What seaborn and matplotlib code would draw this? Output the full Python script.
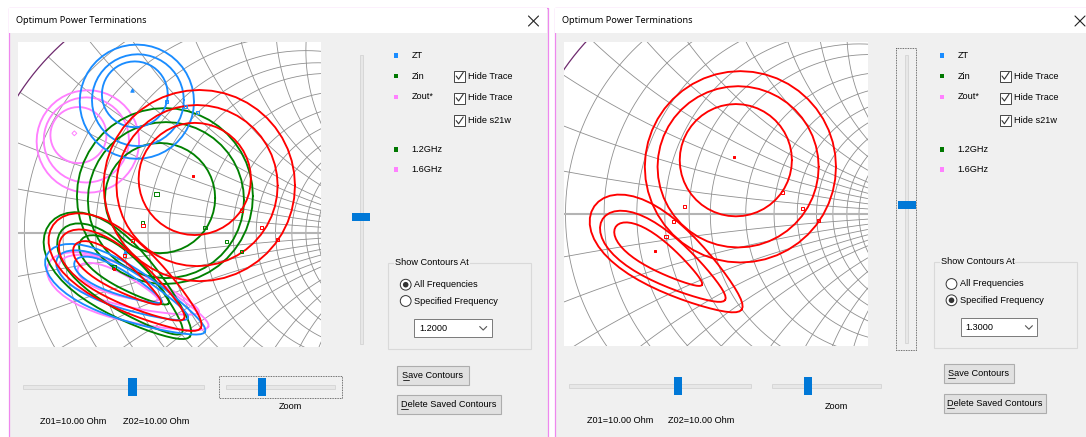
import numpy as np
import pandas as pd
import matplotlib
matplotlib.use("Agg")
import matplotlib.pyplot as plt
from matplotlib.patches import Rectangle, Circle
import seaborn as sns

# ---------------------------------------------------------------- data
# Smith chart grid (normalised resistance and reactance values)
R_GRID = [0.1, 0.2, 0.3, 0.4, 0.5, 0.6, 0.8, 1.0, 1.2, 1.4, 1.6, 1.8, 2.0, 3.0, 4.0, 5.0]
X_GRID = [0.1, 0.2, 0.3, 0.4, 0.5, 0.6, 0.8, 1.0, 1.2, 1.4, 1.6, 1.8, 2.0, 3.0, 4.0, 5.0]

# contours in the reflection-coefficient plane:
# (centre re, centre im, semi-axis a, semi-axis b, tilt deg, egg asymmetry)
RED_CONTOURS = [(-0.132, 0.185, 0.375, 0.375, 0, 0), (-0.141, 0.185, 0.316, 0.316, 0, 0),
                (-0.150, 0.211, 0.220, 0.220, 0, 0), (-0.416, -0.172, 0.353, 0.132, -35, 0.4),
                (-0.432, -0.178, 0.288, 0.095, -33.5, 0.4), (-0.452, -0.164, 0.204, 0.058, -34, 0.4)]
GREEN_CONTOURS = [(-0.267, 0.144, 0.345, 0.345, 0, 0), (-0.263, 0.128, 0.306, 0.306, 0, 0),
                  (-0.286, 0.136, 0.216, 0.216, 0, 0), (-0.443, -0.185, 0.353, 0.140, -39, 0.4),
                  (-0.436, -0.192, 0.310, 0.105, -40.6, 0.4), (-0.424, -0.153, 0.212, 0.065, -36, 0.4)]
BLUE_CONTOURS = [(-0.377, 0.514, 0.224, 0.224, 0, 0), (-0.373, 0.520, 0.180, 0.180, 0, 0),
                 (-0.385, 0.543, 0.129, 0.129, 0, 0), (-0.420, -0.238, 0.345, 0.104, -25.8, 0.4),
                 (-0.433, -0.218, 0.282, 0.077, -24.5, 0.4), (-0.450, -0.192, 0.188, 0.048, -25, 0.4)]
PINK_CONTOURS = [(-0.569, 0.358, 0.201, 0.201, 0, 0), (-0.575, 0.364, 0.167, 0.167, 0, 0),
                 (-0.606, 0.383, 0.110, 0.110, 0, 0), (-0.411, -0.247, 0.337, 0.100, -21, 0.4),
                 (-0.408, -0.217, 0.290, 0.073, -19, 0.4), (-0.451, -0.201, 0.169, 0.044, -22, 0.4)]

# optimum points (centres) and small markers on contours
RED_OPT_X, RED_OPT_Y = [-0.157, -0.468], [0.222, -0.144]
RED_MARK_X = [0.034, 0.113, 0.176, -0.353, -0.395, -0.424]
RED_MARK_Y = [0.086, 0.021, -0.025, 0.029, -0.030, -0.089]
GREEN_OPT_X, GREEN_OPT_Y = [-0.300, -0.465], [0.151, -0.136]
GREEN_MARK_X = [0.034, -0.025, -0.110, -0.354]
GREEN_MARK_Y = [-0.075, -0.035, 0.022, 0.039]
BLUE_OPT_X, BLUE_OPT_Y = [-0.397, -0.424], [0.560, -0.075]
BLUE_MARK_X = [-0.260, -0.188, -0.138]
BLUE_MARK_Y = [0.516, 0.494, 0.471]
PINK_OPT_X, PINK_OPT_Y = [-0.622], [0.390]

# visible window of each chart (re min, re max, im min, im max)
LEFT_VIEW = (-0.843, 0.345, -0.447, 0.747)
RIGHT_VIEW = (-0.824, 0.367, -0.516, 0.673)

LEGEND_LABELS = ["ZT", "Zin", "Zout*", "1.2GHz", "1.6GHz"]
CHECK_LABELS = ["Hide Trace", "Hide Trace", "Hide s21w"]
RADIO_LABELS = ["All Frequencies", "Specified Frequency"]
FREQ_LEFT, FREQ_RIGHT = "1.2000", "1.3000"
TITLE = "Optimum Power Terminations"
Z_LABELS = ["Z01=10.00 Ohm", "Z02=10.00 Ohm"]

# ---------------------------------------------------------------- style
sns.set_theme(style="white")
plt.rcParams["font.family"] = ["Liberation Sans", "DejaVu Sans"]

C_RED, C_GREEN, C_BLUE, C_PINK = "#ff0000", "#008000", "#1a8cff", "#ff80ff"
LEG_COLORS = ["#1a8cff", "#007800", "#ff80ff", "#007800", "#ff80ff"]
GRID_C = "#8f8f8f"
UI = dict(fontsize=6.6, family=["Liberation Sans", "DejaVu Sans"], color="#000000")
TITLE_FONT = dict(fontsize=6.6, family=["Noto Sans", "DejaVu Sans"], color="#000000")
BORDER = "#ee88ee"
BODY = "#f0f0f0"

W, H = 1086, 437
fig = plt.figure(figsize=(W / 100, H / 100), dpi=100)
bg = fig.add_axes([0, 0, 1, 1])
bg.set_xlim(0, W)
bg.set_ylim(H, 0)
bg.axis("off")
renderer = fig.canvas.get_renderer()


def rect(x0, y0, x1, y1, fc, ec="none", lw=0.8, ls="-", z=1):
    bg.add_patch(Rectangle((x0, y0), x1 - x0, y1 - y0, fc=fc, ec=ec, lw=lw, ls=ls, zorder=z))


def txt(x, y, s, ha="left", font=UI, z=5, **kw):
    return bg.text(x, y, s, ha=ha, va="center", zorder=z, **font, **kw)


def hslider(x0, x1, y, t0, t1, ty0, ty1):
    rect(x0, y - 1.6, x1, y + 1.6, "#e7e7e7", "#d4d4d4", 0.6, z=2)
    rect(t0, ty0, t1, ty1, "#0078d7", z=3)


def vslider(x0, x1, y0, y1, t0, t1, ty0, ty1):
    rect(x0, y0, x1, y1, "#e7e7e7", "#d4d4d4", 0.6, z=2)
    rect(t0, ty0, t1, ty1, "#0078d7", z=3)


def focus(x0, y0, x1, y1):
    rect(x0, y0, x1, y1, "none", "#444444", 0.6, ls=(0, (1, 1)), z=4)


def checkbox(x0, yc, label):
    rect(x0, yc - 5.5, x0 + 11, yc + 5.5, "#ffffff", "#444444", 0.7, z=3)
    bg.plot([x0 + 2.2, x0 + 4.6, x0 + 9.2], [yc - 0.2, yc + 3.0, yc - 3.8],
            color="#333333", lw=0.8, zorder=4)
    txt(x0 + 13.7, yc, label)


def radio(x, y, label, on):
    bg.add_patch(Circle((x, y), 5.4, fc="#ffffff", ec="#333333", lw=0.7, zorder=3))
    if on:
        bg.add_patch(Circle((x, y), 2.8, fc="#333333", ec="none", zorder=4))
    txt(x + 8.4, y, label)


def combo(x0, y0, x1, y1, val):
    rect(x0, y0, x1, y1, "#ffffff", "#7a7a7a", 0.7, z=3)
    yc = (y0 + y1) / 2
    txt(x0 + 5, yc, val)
    cx = x1 - 8.5
    bg.plot([cx - 3.5, cx, cx + 3.5], [yc - 1.6, yc + 1.9, yc - 1.6], color="#555555", lw=0.8, zorder=4)


def button(x0, y0, x1, y1, label):
    rect(x0, y0, x1, y1, "#e1e1e1", "#adadad", 0.8, z=3)
    yc = (y0 + y1) / 2
    t = txt((x0 + x1) / 2, yc, label, ha="center")
    bb = t.get_window_extent(renderer)
    t1 = bg.text(0, 0, label[0], **UI)
    w1 = t1.get_window_extent(renderer).width
    t1.remove()
    bg.plot([bb.x0, bb.x0 + w1], [yc + 4.6, yc + 4.6], color="#111111", lw=0.6, zorder=5)


def groupbox(x0, y0, x1, y1, title):
    rect(x0, y0, x1, y1, "none", "#d9d9d9", 0.8, z=2)
    txt(x0 + 7, y0, title, bbox=dict(fc=BODY, ec="none", pad=0.6))


def close_x(xc, yc):
    bg.plot([xc - 5, xc + 5], [yc - 5, yc + 5], color="#222222", lw=0.8, zorder=5)
    bg.plot([xc - 5, xc + 5], [yc + 5, yc - 5], color="#222222", lw=0.8, zorder=5)


def contour_frame(groups):
    rows = []
    t = np.linspace(0, 2 * np.pi, 49)
    for gname, items in groups:
        for k, (cx, cy, a, b, ang, egg) in enumerate(items):
            th = np.deg2rad(ang)
            u = a * np.cos(t)
            v = b * np.sin(t) * (1 - egg * np.cos(t))
            xs = cx + u * np.cos(th) - v * np.sin(th)
            ys = cy + u * np.sin(th) + v * np.cos(th)
            for i, (xv, yv) in enumerate(zip(xs, ys)):
                rows.append((gname, f"{gname}{k}", i, xv, yv))
    return pd.DataFrame(rows, columns=["group", "cid", "order", "gx", "gy"])


def smith_grid(ax):
    big = np.sinh(np.linspace(-13, 13, 6001))
    for r in R_GRID:
        z = r + 1j * big
        g = (z - 1) / (z + 1)
        ax.plot(g.real, g.imag, color=GRID_C, lw=0.6, zorder=1)
    rr = np.concatenate([[0.0], np.logspace(-3, 5, 4000)])
    for x in X_GRID:
        for s in (1, -1):
            z = rr + 1j * s * x
            g = (z - 1) / (z + 1)
            ax.plot(g.real, g.imag, color=GRID_C, lw=0.6, zorder=1)
    ax.plot([-1, 1], [0, 0], color="#b4b4b4", lw=1.5, zorder=1.5)
    tt = np.linspace(0, 2 * np.pi, 1441)
    ax.plot(np.cos(tt), np.sin(tt), color="#6e2a6e", lw=0.9, zorder=1.6)


def chart(px0, py0, px1, py1, view, groups, opts, marks):
    ax = fig.add_axes([px0 / W, 1 - py1 / H, (px1 - px0) / W, (py1 - py0) / H])
    ax.set_facecolor("#ffffff")
    for s in ax.spines.values():
        s.set_visible(False)
    ax.set_xticks([])
    ax.set_yticks([])
    smith_grid(ax)
    df = contour_frame(groups)
    colors = {"pink": C_PINK, "green": C_GREEN, "blue": C_BLUE, "red": C_RED}
    for zi, (gname, _) in enumerate(groups):
        sub = df[df.group == gname]
        sns.lineplot(data=sub, x="gx", y="gy", units="cid", estimator=None, sort=False,
                     color=colors[gname], lw=1.35, ax=ax, legend=False, zorder=3 + zi)
    for xs, ys, col, mk, sz, filled in opts:
        sns.scatterplot(x=xs, y=ys, ax=ax, marker=mk, s=sz, color=col if filled else "none",
                        edgecolor=col, linewidth=0.7, zorder=10, legend=False)
    for xs, ys, col in marks:
        ax.scatter(xs, ys, marker="s", s=5, facecolors="none", edgecolors=col, linewidths=0.7, zorder=10)
    ax.set_xlim(view[0], view[1])
    ax.set_ylim(view[2], view[3])
    ax.set_xlabel("")
    ax.set_ylabel("")
    return ax


# ---------------------------------------------------------------- dialogs
for x0, x1 in [(8.5, 547.5), (554.5, 1100)]:
    rect(x0, 7.5, x1, 450, BODY, BORDER, 0.9, z=0.5)
    rect(x0 + 0.5, 8, x1 - 0.5, 33, "#ffffff", z=0.6)
txt(15.6, 20.7, TITLE, font=TITLE_FONT)
txt(562.3, 20.7, TITLE, font=TITLE_FONT)
close_x(533.5, 21)
close_x(1080, 21)

# charts
chart(18, 42.3, 321, 346.7, LEFT_VIEW,
      [("pink", PINK_CONTOURS), ("green", GREEN_CONTOURS), ("blue", BLUE_CONTOURS), ("red", RED_CONTOURS)],
      [(PINK_OPT_X, PINK_OPT_Y, C_PINK, "D", 6, False), (GREEN_OPT_X, GREEN_OPT_Y, C_GREEN, "s", 9, False),
       (BLUE_OPT_X, BLUE_OPT_Y, C_BLUE, "^", 6, True), (RED_OPT_X, RED_OPT_Y, C_RED, "s", 3, True)],
      [(GREEN_MARK_X, GREEN_MARK_Y, C_GREEN), (BLUE_MARK_X, BLUE_MARK_Y, C_BLUE), (RED_MARK_X, RED_MARK_Y, C_RED)])
chart(564, 42.3, 867.6, 345.7, RIGHT_VIEW,
      [("red", RED_CONTOURS)],
      [(RED_OPT_X, RED_OPT_Y, C_RED, "s", 3, True)],
      [(RED_MARK_X, RED_MARK_Y, C_RED)])

# side panels
for off, (sq_x, tx_x, cb_x, gb, rad_x, rad_y, sel, cmb, freq, save, dele) in enumerate([
    (396, 411.7, 454, (388.3, 262.7, 531, 349.3), 405.7, (284.7, 301), 0,
     (414.3, 319, 491.7, 337.3), FREQ_LEFT, (397.3, 365.7, 468.7, 384.7), (397.3, 395, 500.7, 414)),
    (941.8, 957.4, 999.8, (933.9, 261.7, 1076.7, 348.3), 951.5, (284, 300.3), 1,
     (960.5, 318.3, 1037.4, 336.3), FREQ_RIGHT, (943.6, 364.3, 1014.3, 383.3), (943.6, 394.3, 1046.4, 413.3)),
]):
    for lab, col, y in zip(LEGEND_LABELS, LEG_COLORS, [55.5, 76.2, 96.9, 149.3, 169.4]):
        rect(sq_x - 2.3, y - 2.3, sq_x + 2.3, y + 2.3, col, z=3)
        txt(tx_x, y, lab)
    for lab, y in zip(CHECK_LABELS, [76.2, 98.0, 120.8]):
        checkbox(cb_x, y, lab)
    groupbox(*gb, "Show Contours At")
    for k, (lab, y) in enumerate(zip(RADIO_LABELS, rad_y)):
        radio(rad_x, y, lab, k == sel)
    combo(*cmb, freq)
    button(*save, "Save Contours")
    button(*dele, "Delete Saved Contours")

# sliders
vslider(360, 363.3, 55, 344, 352, 370, 212.7, 220.7)
focus(896, 48.3, 916, 350.3)
vslider(905, 908.3, 55, 343, 897.7, 915.7, 200.7, 209.3)
hslider(22.7, 204, 387, 127.7, 136.7, 377.7, 395.7)
focus(219, 376, 342.3, 397.5)
hslider(226, 335, 387, 257.7, 266.3, 377.7, 395.7)
hslider(569, 750.7, 386, 673.7, 682.3, 376.7, 395)
hslider(771.7, 881.4, 386, 803.8, 812.4, 376.7, 395)
txt(278.3, 406.7, "Zoom")
txt(825, 406.7, "Zoom")
txt(40, 421.7, Z_LABELS[0])
txt(123, 421.7, Z_LABELS[1])
txt(587, 420.7, Z_LABELS[0])
txt(668.5, 420.7, Z_LABELS[1])

fig.savefig("out.png", dpi=100, facecolor="#ffffff")
